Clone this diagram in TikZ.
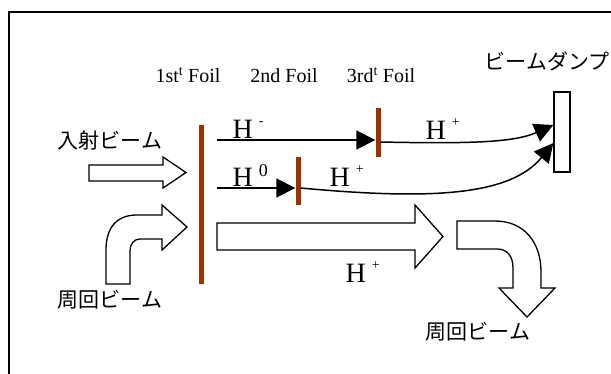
\documentclass[tikz,border=0pt]{standalone}
\usepackage{fontspec}
\setmainfont{Liberation Serif}
\newfontfamily\jpfont{Noto Sans CJK JP}
\usepackage{tikz}
\usetikzlibrary{arrows.meta}
\definecolor{foilred}{RGB}{153,51,0}
\tikzset{
    frame/.style={draw=black, line width=1.5pt},
    foil/.style={fill=foilred, inner sep=0pt, minimum width=5pt},
    dump/.style={draw=black, fill=white, line width=1.3pt, inner sep=0pt, minimum width=16pt, minimum height=80pt},
    beamline/.style={-{Triangle[length=19pt,width=19pt]}, line width=1.5pt, draw=black},
    blockarrow/.style={draw=black, fill=white, line width=1.3pt, line join=miter},
    foiltext/.style={font=\fontsize{20}{24}\selectfont, inner sep=0pt, anchor=base},
    htext/.style={font=\fontsize{28}{32}\selectfont, inner sep=0pt, anchor=base west},
    jptext/.style={font=\jpfont\fontsize{21}{24}\selectfont, inner sep=0pt}
}
\newcommand{\chg}[1]{\hspace{6pt}\raisebox{13pt}{\fontsize{14}{14}\selectfont #1}}

\begin{document}
\begin{tikzpicture}[x=1pt,y=-1pt]
\useasboundingbox (0,0) rectangle (611,374);
\draw[frame] (9,374) -- (9,12) -- (611,12);
\node[foiltext] (foilAtext) at (188,83) {1st\textsuperscript{t} Foil};
\node[foiltext] (foilBtext) at (284,83) {2nd Foil};
\node[foiltext] (foilCtext) at (381,83) {3rd\textsuperscript{t} Foil};
\node[jptext] (dumptext) at (547,61) {ビームダンプ};
\node[jptext] (injtext) at (110,141) {入射ビーム};
\node[jptext] (circtext) at (110,300) {周回ビーム};
\node[jptext] (outtext) at (478,332) {周回ビーム};
\draw[blockarrow] (89,165) -- (163,165) -- (163,157) -- (186,172.5) -- (163,188) -- (163,181) -- (89,181) -- cycle;
\draw[blockarrow] (106,284) -- (106,250) .. controls (106,226) and (118,215) .. (137,215) -- (162,215) -- (162,205) -- (187,227) -- (162,250) -- (162,239) -- (140,239) .. controls (134,239) and (130,244) .. (130,251) -- (130,284) -- cycle;
\draw[blockarrow] (217,223) -- (415,223) -- (415,205) -- (443,236.5) -- (415,268) -- (415,250) -- (217,250) -- cycle;
\draw[blockarrow] (457,221) -- (495,221) .. controls (524,221) and (541,242) .. (541,272) -- (541,288) -- (555,288) -- (527,317) -- (499,288) -- (513,288) -- (513,268) .. controls (513,256) and (507,249) .. (497,249) -- (457,249) -- cycle;
\node[foil, minimum height=159pt] (foilA) at (201.5,204.5) {};
\node[foil, minimum height=48pt] (foilB) at (298,181) {};
\node[foil, minimum height=49pt] (foilC) at (378,132.5) {};
\node[dump] (dump) at (562,132) {};
\coordinate (hminus) at (217,140);
\coordinate (hzero) at (217,188);
\draw[beamline] (hminus) -- (foilC.west |- hminus);
\draw[beamline] (hzero) -- (foilB.west |- hzero);
\draw[beamline] ([yshift=-9.5pt]foilC.east) .. controls (475,144) and (515,142) .. ([yshift=7pt]dump.west);
\draw[beamline] ([yshift=-7pt]foilB.east) .. controls (430,200) and (510,196) .. ([yshift=-11pt]dump.west);
\node[htext] (hminustext) at (232.5,139) {H\chg{-}};
\node[htext] (hzerotext) at (232.5,187) {H\hspace{6pt}\raisebox{10pt}{\fontsize{18}{18}\selectfont 0}};
\node[htext] (hplusC) at (425.5,140) {H\chg{+}};
\node[htext] (hplusB) at (329.5,187) {H\chg{+}};
\node[htext] (hplusA) at (345.5,283) {H\chg{+}};
\end{tikzpicture}
\end{document}
